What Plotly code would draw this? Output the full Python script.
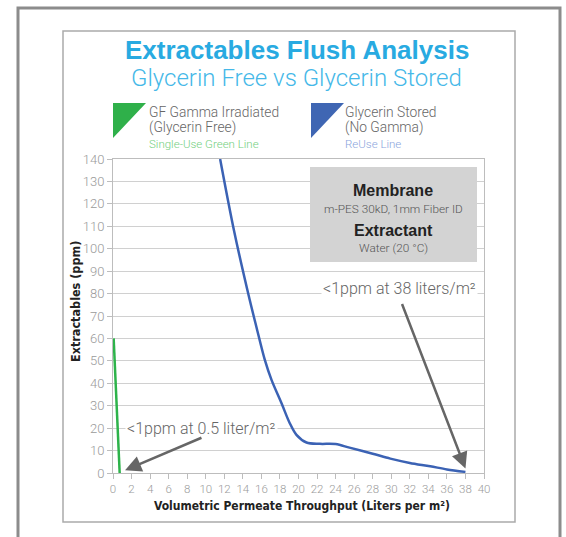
import plotly.graph_objects as go

# ---- data ----
gf_x = [0.07, 0.72]
gf_y = [60, 0]
gs_x = [11.55, 13.05, 14.75, 15.47, 16.37, 17.09, 18.17, 19.06, 19.78, 20.86,
        22.3, 24.0, 25.5, 28.0, 29.9, 32.0, 34.2, 36.0, 38.0]
gs_y = [140, 108, 77, 65, 50.4, 41.5, 31.1, 22.2, 17.0, 13.6,
        13.0, 12.9, 11.3, 8.6, 6.4, 4.5, 3.0, 1.6, 0.5]
x_ticks = list(range(0, 41, 2))
y_ticks = list(range(0, 141, 10))

W, H = 566, 537
ML, MR, MT, MB = 113, 82, 159, 64
PW, PH = W - ML - MR, H - MT - MB


def fx(p):
    return (p - ML) / PW


def fy(p):
    return (H - MB - p) / PH


GREEN = "#2db34a"
BLUE = "#3b62b4"
GRAY_TXT = "#666666"
TICK = "#9a9a9a"
NARROW = "Liberation Sans Narrow, DejaVu Sans Condensed, Arial Narrow, sans-serif"
LIGHT = "Roboto, Liberation Sans, sans-serif"
BOLD = "Liberation Sans, Arial, sans-serif"

fig = go.Figure()
fig.add_trace(go.Scatter(x=gf_x, y=gf_y, mode="lines",
                         line=dict(color=GREEN, width=2.5), showlegend=False))
fig.add_trace(go.Scatter(x=gs_x, y=gs_y, mode="lines",
                         line=dict(color=BLUE, width=2.5, shape="spline", smoothing=0.9),
                         showlegend=False))

shapes = []
# outer frame
shapes.append(dict(type="rect", xref="paper", yref="paper",
                   x0=fx(18), x1=fx(560), y0=fy(8), y1=fy(545),
                   line=dict(color="#8c8c8c", width=3), layer="below"))
# inner box
shapes.append(dict(type="rect", xref="paper", yref="paper",
                   x0=fx(63), x1=fx(515), y0=fy(31), y1=fy(522),
                   line=dict(color="#ababab", width=1.5), layer="below"))
# info box
shapes.append(dict(type="rect", xref="paper", yref="paper",
                   x0=fx(310), x1=fx(477), y0=fy(167), y1=fy(262),
                   fillcolor="#d3d3d3", line=dict(width=0), layer="above"))
# legend triangles
for (x0, col) in [(113, "#2fb04a"), (311, "#3f66b3")]:
    xa, xb = fx(x0), fx(x0 + 33)
    ya, yb = fy(103), fy(138)
    shapes.append(dict(type="path", xref="paper", yref="paper",
                       path=f"M {xa},{ya} L {xb},{ya} L {xa},{yb} Z",
                       fillcolor=col, line=dict(width=0)))

ann = []


def txt(text, x, y, size, color, family=LIGHT, xanchor="center", weight="normal", bg=None):
    d = dict(text=text, xref="paper", yref="paper", x=fx(x), y=fy(y),
             xanchor=xanchor, yanchor="middle", showarrow=False,
             font=dict(size=size, color=color, family=family, weight=weight))
    if bg:
        d["bgcolor"] = bg
    ann.append(d)


txt("Extractables Flush Analysis", 297, 50, 26, "#28aae1", family=BOLD, weight="bold")
txt("Glycerin Free vs Glycerin Stored", 296, 78, 24, "#45b8e8", weight=300)

txt("GF Gamma Irradiated", 147, 112, 13.8, GRAY_TXT, xanchor="left", weight=300)
txt("(Glycerin Free)", 147, 128, 13.8, GRAY_TXT, xanchor="left", weight=300)
txt("Single-Use Green Line", 147, 144, 11.5, "#73cf7e", xanchor="left", weight=300)
txt("Glycerin Stored", 343, 112, 13.8, GRAY_TXT, xanchor="left", weight=300)
txt("(No Gamma)", 343, 128, 13.8, GRAY_TXT, xanchor="left", weight=300)
txt("ReUse Line", 343, 144, 11.5, "#8aa5dc", xanchor="left", weight=300)

txt("Membrane", 393, 190, 16, "#222222", family=BOLD, weight="bold")
txt("m-PES 30kD, 1mm Fiber ID", 393, 209, 11.8, "#555555", weight=300)
txt("Extractant", 393, 230, 16, "#222222", family=BOLD, weight="bold")
txt("Water (20 °C)", 393, 248, 11.8, "#555555", weight=300)

txt("<1ppm at 0.5 liter/m²", 201, 428, 16, GRAY_TXT, weight=300, bg="white")
txt("<1ppm at 38 liters/m²", 399, 288, 16, GRAY_TXT, weight=300, bg="white")

txt("Volumetric Permeate Throughput (Liters per m²)", 302, 506, 12, "#222222",
    family=NARROW, weight="bold")
ann.append(dict(text="Extractables (ppm)", xref="paper", yref="paper",
                x=fx(75), y=fy(302), textangle=-90, showarrow=False,
                xanchor="center", yanchor="middle",
                font=dict(size=12.5, color="#222222", family=NARROW, weight="bold")))

# arrows
for (tx, ty, hx, hy) in [(9.7, 16, 1.3, 1.2), (31.1, 76, 38.0, 2.0)]:
    ann.append(dict(x=hx, y=hy, ax=tx, ay=ty, xref="x", yref="y", axref="x", ayref="y",
                    text="", showarrow=True, arrowhead=2, arrowsize=1.3,
                    arrowwidth=2.5, arrowcolor="#666666"))

fig.update_layout(
    width=W, height=H,
    margin=dict(l=ML, r=MR, t=MT, b=MB, pad=0),
    paper_bgcolor="white", plot_bgcolor="white",
    shapes=shapes, annotations=ann,
    xaxis=dict(range=[0, 40], tickvals=x_ticks, ticktext=[str(v) for v in x_ticks],
               showgrid=False, zeroline=False, showline=True, linecolor="#bdbdbd",
               linewidth=1, mirror=True, ticks="outside", ticklen=5, tickcolor="#bdbdbd",
               tickfont=dict(size=11.5, color=TICK, family=LIGHT, weight=300), fixedrange=True),
    yaxis=dict(range=[0, 140], tickvals=y_ticks, ticktext=[str(v) for v in y_ticks],
               showgrid=True, gridcolor="#d0d0d0", gridwidth=1, zeroline=False,
               showline=True, linecolor="#bdbdbd", linewidth=1, mirror=True,
               ticks="outside", ticklen=5, tickcolor="#bdbdbd",
               tickfont=dict(size=13, color=TICK, family=LIGHT, weight=300), fixedrange=True),
)

fig.write_html("out.html", config={"displayModeBar": False},
               post_script="document.body.style.margin='0';document.body.style.overflow='hidden';")
